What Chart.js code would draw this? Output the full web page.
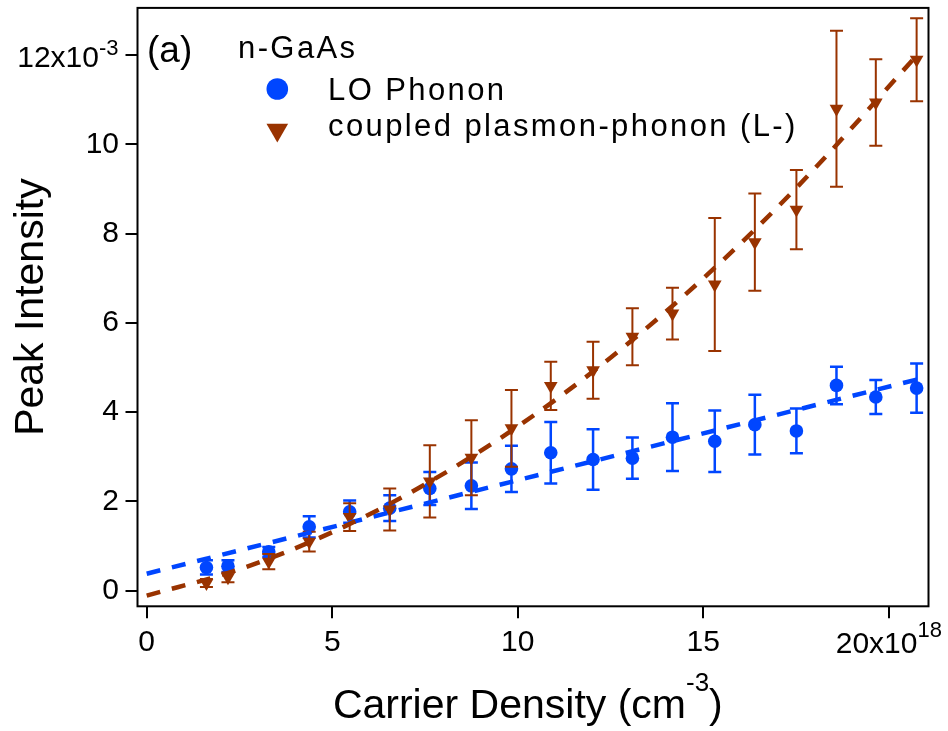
<!DOCTYPE html>
<html>
<head>
<meta charset="utf-8">
<title>n-GaAs peak intensity</title>
<script src="https://cdn.jsdelivr.net/npm/chart.js@4.4.0/dist/chart.umd.min.js"></script>
<style>
	html, body { margin: 0; padding: 0; background: #fff; }
	.chart-wrapper { width: 948px; height: 731px; }
</style>
</head>
<body>
<div class="chart-wrapper"><canvas id="myChart"></canvas></div>
<script>
'use strict'

// DATA
// carrier density (x10^18 cm^-3)
var density = [1.61, 2.19, 3.29, 4.38, 5.47, 6.55, 7.63, 8.75, 9.83, 10.89, 12.03, 13.09, 14.17, 15.31, 16.39, 17.51, 18.59, 19.65, 20.75];

// LO phonon peak intensity (x10^-3) and error
var loPhonon    = [0.52, 0.55, 0.87, 1.43, 1.77, 1.85, 2.29, 2.35, 2.73, 3.09, 2.94, 2.97, 3.44, 3.35, 3.72, 3.58, 4.60, 4.34, 4.54];
var loPhononErr = [0.16, 0.13, 0.11, 0.24, 0.25, 0.29, 0.37, 0.52, 0.52, 0.69, 0.68, 0.46, 0.76, 0.69, 0.67, 0.50, 0.42, 0.38, 0.55];

// coupled plasmon-phonon L- peak intensity (x10^-3) and error
var coupled    = [0.17, 0.30, 0.65, 1.10, 1.65, 1.82, 2.45, 2.98, 3.64, 4.59, 4.94, 5.69, 6.21, 6.86, 7.81, 8.54, 10.80, 10.94, 11.90];
var coupledErr = [0.09, 0.11, 0.17, 0.22, 0.31, 0.47, 0.81, 0.84, 0.86, 0.54, 0.64, 0.64, 0.58, 1.49, 1.09, 0.89, 1.75, 0.97, 0.93];

// fit curves
var loFitX = [0, 20.75];
var loFitY = [0.38, 4.73];
var lmFitX = [0, 2.5, 5, 7.5, 10, 12.5, 15, 17.5, 20.75];
var lmFitY = [-0.11, 0.48, 1.31, 2.38, 3.68, 5.22, 7.00, 9.02, 11.99];

// axis ticks
var xTicks = [0, 5, 10, 15, 20];
var yTicks = [0, 2, 4, 6, 8, 10, 12];

var BLUE = '#0046ff';
var BROWN = '#993300';
var FONT = '"Liberation Sans", Arial, Helvetica, sans-serif';

var toPoints = function(xs, ys) {
	return xs.map(function(x, i) { return { x: x, y: ys[i] }; });
};

// text with a superscript part
var drawSup = function(ctx, base, sup, x, y, size, supSize, rise, align) {
	ctx.font = size + 'px ' + FONT;
	var w1 = ctx.measureText(base).width;
	ctx.font = supSize + 'px ' + FONT;
	var w2 = ctx.measureText(sup).width;
	var x0 = x;
	if (align === 'right') x0 = x - w1 - w2;
	if (align === 'center') x0 = x - (w1 + w2) / 2;
	ctx.textAlign = 'left';
	ctx.textBaseline = 'alphabetic';
	ctx.font = size + 'px ' + FONT;
	ctx.fillText(base, x0, y);
	ctx.font = supSize + 'px ' + FONT;
	ctx.fillText(sup, x0 + w1, y - rise);
	return x0 + w1 + w2;
};

// ERROR BARS - drawn right before their own markers
var errorBars = {
	id: 'errorBars',
	beforeDatasetDraw: function(chart, args) {
		var ds = chart.data.datasets[args.index];
		if (!ds.errors) return;
		var ctx = chart.ctx;
		var xs = chart.scales.x, ys = chart.scales.y;
		ctx.save();
		ctx.strokeStyle = ds.borderColor;
		ctx.lineWidth = ds.errorWidth;
		ds.data.forEach(function(p, i) {
			var px = xs.getPixelForValue(p.x);
			var top = ys.getPixelForValue(p.y + ds.errors[i]);
			var bot = ys.getPixelForValue(p.y - ds.errors[i]);
			ctx.beginPath();
			ctx.moveTo(px, top); ctx.lineTo(px, bot);
			ctx.moveTo(px - 6.5, top); ctx.lineTo(px + 6.5, top);
			ctx.moveTo(px - 6.5, bot); ctx.lineTo(px + 6.5, bot);
			ctx.stroke();
		});
		ctx.restore();
	}
};

// FRAME, LABELS, LEGEND
var decorations = {
	id: 'decorations',
	afterDraw: function(chart) {
		var ctx = chart.ctx;
		var area = chart.chartArea;
		var xs = chart.scales.x, ys = chart.scales.y;
		ctx.save();
		ctx.strokeStyle = '#000';
		ctx.lineWidth = 2;
		ctx.strokeRect(area.left, area.top, area.right - area.left, area.bottom - area.top);

		ctx.fillStyle = '#000';
		// top y label and last x label carry the exponent
		var y12 = ys.getPixelForValue(12);
		drawSup(ctx, '12x10', '-3', 118.5, y12 + 11.7, 30, 22, 12, 'right');
		var x20 = xs.getPixelForValue(20);
		drawSup(ctx, '20x10', '18', x20, 653, 30, 22, 16, 'center');

		// axis titles
		var end = drawSup(ctx, 'Carrier Density (cm', '-3', 533 - 12, 718, 41, 26, 27, 'center');
		ctx.font = '41px ' + FONT;
		ctx.fillText(')', end, 718);

		ctx.save();
		ctx.translate(43, (area.top + area.bottom) / 2);
		ctx.rotate(-Math.PI / 2);
		ctx.textAlign = 'center';
		ctx.font = '41px ' + FONT;
		ctx.fillText('Peak Intensity', 0, 0);
		ctx.restore();

		// panel tag and legend
		ctx.textAlign = 'left';
		ctx.font = '37px ' + FONT;
		ctx.fillText('(a)', 147, 62);
		ctx.font = '31px ' + FONT;
		ctx.letterSpacing = '2.4px';
		ctx.fillText('n-GaAs', 238, 58);
		ctx.fillText('LO Phonon', 328, 100);
		ctx.fillText('coupled plasmon-phonon (L-)', 328, 136);
		ctx.letterSpacing = '0px';

		ctx.fillStyle = BLUE;
		ctx.beginPath();
		ctx.arc(277.3, 89, 10.8, 0, Math.PI * 2);
		ctx.fill();

		var r = 12.5, cx = 277.3, cy = 130;
		ctx.fillStyle = BROWN;
		ctx.beginPath();
		ctx.moveTo(cx, cy + r);
		ctx.lineTo(cx - r * Math.sqrt(3) / 2, cy - r / 2);
		ctx.lineTo(cx + r * Math.sqrt(3) / 2, cy - r / 2);
		ctx.closePath();
		ctx.fill();
		ctx.restore();
	}
};

// CHART
var ctx = document.getElementById('myChart').getContext('2d');

var tickFont = { family: FONT, size: 30 };

var chart = new Chart(ctx, {
	type: 'scatter',
	data: {
		datasets: [{
			label: 'L- fit',
			data: toPoints(lmFitX, lmFitY),
			showLine: true,
			borderColor: BROWN,
			borderWidth: 4.5,
			borderDash: [14, 12],
			pointRadius: 0,
			cubicInterpolationMode: 'monotone'
		},
		{
			label: 'LO fit',
			data: toPoints(loFitX, loFitY),
			showLine: true,
			borderColor: BLUE,
			borderWidth: 4.5,
			borderDash: [14, 12],
			pointRadius: 0
		},
		{
			label: 'coupled plasmon-phonon (L-)',
			data: toPoints(density, coupled),
			errors: coupledErr,
			errorWidth: 2,
			borderColor: BROWN,
			backgroundColor: BROWN,
			pointStyle: 'triangle',
			rotation: 180,
			pointRadius: 7.9,
			pointBorderWidth: 0
		},
		{
			label: 'LO Phonon',
			data: toPoints(density, loPhonon),
			errors: loPhononErr,
			errorWidth: 2.5,
			borderColor: BLUE,
			backgroundColor: BLUE,
			pointRadius: 6.8,
			pointBorderWidth: 0
		}]
	},
	options: {
		responsive: true,
		maintainAspectRatio: false,
		animation: false,
		layout: { padding: { top: 7.7, right: 19.5, left: 0, bottom: 0 } },
		plugins: {
			legend: { display: false },
			tooltip: { enabled: false }
		},
		scales: {
			x: {
				type: 'linear',
				min: -0.248,
				max: 21.07,
				afterBuildTicks: function(s) { s.ticks = xTicks.map(function(v) { return { value: v }; }); },
				afterFit: function(s) {
					s.height = 124.7;
					s.paddingLeft = 0; s.paddingRight = 0;
				},
				grid: { drawOnChartArea: false, drawTicks: true, tickLength: 12, color: '#000', lineWidth: 2 },
				border: { display: false },
				ticks: {
					color: '#000',
					font: tickFont,
					padding: 6,
					maxRotation: 0,
					callback: function(v) { return v === 20 ? '' : String(v); }
				}
			},
			y: {
				type: 'linear',
				min: -0.35,
				max: 13.06,
				afterBuildTicks: function(s) { s.ticks = yTicks.map(function(v) { return { value: v }; }); },
				afterFit: function(s) {
					s.width = 137.5;
					s.paddingTop = 0; s.paddingBottom = 0;
				},
				grid: { drawOnChartArea: false, drawTicks: true, tickLength: 12, color: '#000', lineWidth: 2 },
				border: { display: false },
				ticks: {
					color: '#000',
					font: tickFont,
					padding: 6.5,
					callback: function(v) { return v === 12 ? '' : String(v); }
				}
			}
		}
	},
	plugins: [errorBars, decorations]
});
</script>
</body>
</html>
